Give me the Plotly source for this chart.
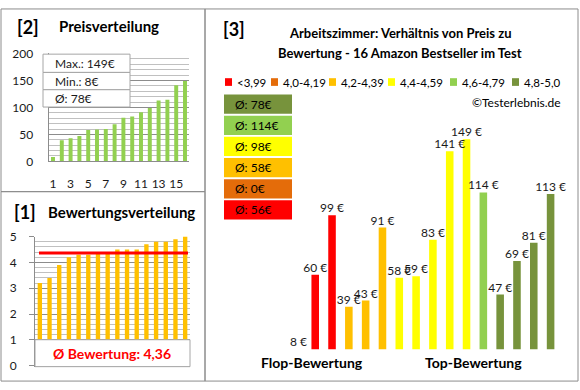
import plotly.graph_objects as go

W, H = 580, 390
FONT = "Lato, 'Liberation Sans', sans-serif"

# ---------------- data ----------------
# right panel: products ordered by rating class, price in EUR
right_prices = [8, 60, 99, 39, 43, 91, 58, 59, 83, 141, 149, 114, 47, 69, 81, 113]
right_class = [0, 0, 0, 2, 2, 2, 3, 3, 3, 3, 3, 4, 5, 5, 5, 5]
class_labels = ["<3,99", "4,0-4,19", "4,2-4,39", "4,4-4,59", "4,6-4,79", "4,8-5,0"]
class_colors = ["#FF0000", "#E46C0A", "#FFC000", "#FFFF00", "#92D050", "#77933C"]

# bottom-left: rating distribution (sorted)
ratings = [3.2, 3.4, 3.9, 4.2, 4.3, 4.3, 4.4, 4.4, 4.5, 4.5, 4.5, 4.7, 4.8, 4.8, 4.9, 5.0]

# top-left: price distribution (sorted)
prices_sorted = sorted(right_prices)
price_idx = list(range(1, len(prices_sorted) + 1))
price_ticks = [1, 3, 5, 7, 9, 11, 13, 15]

title_right = ["Arbeitszimmer: Verhältnis von Preis zu",
               "Bewertung - 16 Amazon Bestseller im Test"]
group_labels = ["Flop-Bewertung", "Top-Bewertung"]

# ---------------- layout constants ----------------
def px(x):
    return x / W

def py(y):
    return 1 - y / H

GRID_MAJ = "#8c8c8c"
GRID_MIN = "#c0c0c0"
BORDER = "#8c8c8c"
TXT = "#1a1a1a"

fig = go.Figure()

# top-left bars
fig.add_trace(go.Bar(x=price_idx, y=prices_sorted, marker_color="#92D050",
                     marker_line_width=0, xaxis="x", yaxis="y", showlegend=False))

# bottom-left bars
fig.add_trace(go.Bar(x=list(range(1, len(ratings) + 1)), y=ratings, marker_color="#FFC000",
                     marker_line_width=0, xaxis="x2", yaxis="y2", showlegend=False))

# right bars
Y3_MIN = 11
r_x = list(range(1, len(right_prices) + 1))
fig.add_trace(go.Bar(x=r_x, y=right_prices,
                     marker_color=[class_colors[c] for c in right_class],
                     marker_line_width=0, xaxis="x3", yaxis="y3", showlegend=False))
fig.add_trace(go.Scatter(x=r_x, y=[max(v, Y3_MIN) for v in right_prices],
                         mode="text", text=[f"{v} €" for v in right_prices],
                         textposition="top center",
                         textfont=dict(size=12, color=TXT, family=FONT),
                         xaxis="x3", yaxis="y3", showlegend=False, cliponaxis=False,
                         hoverinfo="skip"))

shapes = []
ann = []

# panel borders
shapes.append(dict(type="rect", xref="paper", yref="paper", x0=px(1), x1=px(205), y0=py(191), y1=py(1),
                   line=dict(color=BORDER, width=1), layer="above"))
shapes.append(dict(type="rect", xref="paper", yref="paper", x0=px(1), x1=px(205), y0=py(388), y1=py(191),
                   line=dict(color=BORDER, width=1), layer="above"))
shapes.append(dict(type="rect", xref="paper", yref="paper", x0=px(205), x1=px(578), y0=py(388), y1=py(1),
                   line=dict(color=BORDER, width=1), layer="above"))

# top-left info box
avg_price = sum(prices_sorted) / len(prices_sorted)
info = [f"Max.: {max(prices_sorted)}€", f"Min.: {min(prices_sorted)}€", f"Ø: {int(avg_price + 0.5)}€"]
rows = [(48, 67), (67, 85), (85, 103)]
for (t, b), s in zip(rows, info):
    shapes.append(dict(type="rect", xref="paper", yref="paper", x0=px(43), x1=px(130), y0=py(b), y1=py(t),
                       fillcolor="white", line=dict(color="#a6a6a6", width=1), layer="above"))
    ann.append(dict(x=px(53), y=py((t + b) / 2), xref="paper", yref="paper", text=s, showarrow=False,
                    xanchor="left", yanchor="middle", font=dict(size=12, color=TXT, family=FONT)))

# bottom-left avg line + box
avg_rating = sum(ratings) / len(ratings)
shapes.append(dict(type="line", xref="paper", yref="y2", x0=px(39), x1=px(188), y0=avg_rating, y1=avg_rating,
                   line=dict(color="#FF0000", width=3), layer="above"))
shapes.append(dict(type="rect", xref="paper", yref="paper", x0=px(35), x1=px(190), y0=py(373), y1=py(345),
                   fillcolor="white", line=dict(color="#a6a6a6", width=1), layer="above"))
ann.append(dict(x=px(112), y=py(359), xref="paper", yref="paper", xanchor="center", yanchor="middle",
                text="<b>Ø Bewertung: " + f"{avg_rating:.2f}".replace(".", ",") + "</b>",
                showarrow=False, font=dict(size=14, color="#FF0000", family=FONT)))

# titles
def label(x, y, text, size, bold=True, anchor="center", color="#000000"):
    ann.append(dict(x=px(x), y=py(y), xref="paper", yref="paper",
                    text=f"<b>{text}</b>" if bold else text, showarrow=False,
                    xanchor=anchor, yanchor="middle", font=dict(size=size, color=color, family=FONT)))

label(28, 20, "[2]", 18)
label(109, 19, "Preisverteilung", 15)
label(25, 212, "[1]", 18)
label(121, 212, "Bewertungsverteilung", 15)
label(234, 22, "[3]", 18)
label(400, 26.5, title_right[0], 13)
label(400, 46.5, title_right[1], 13)
label(312, 369, group_labels[0], 14)
label(473, 369, group_labels[1], 14)
label(563, 98, "©Testerlebnis.de", 12, bold=False, anchor="right")

# legend
leg_x = [225, 271, 329, 388, 450, 512]
for lx, lab, col in zip(leg_x, class_labels, class_colors):
    shapes.append(dict(type="rect", xref="paper", yref="paper", x0=px(lx), x1=px(lx + 7), y0=py(81), y1=py(73),
                       fillcolor=col, line=dict(width=0)))
    label(lx + 10, 77, lab, 11.5, bold=False, anchor="left")

# class averages boxes (top = best class)
for i, ci in enumerate(reversed(range(len(class_labels)))):
    vals = [p for p, c in zip(right_prices, right_class) if c == ci]
    avg = int(sum(vals) / len(vals) + 0.5) if vals else 0
    top = 90 + 22 * i
    shapes.append(dict(type="rect", xref="paper", yref="paper", x0=px(224), x1=px(292), y0=py(top + 20), y1=py(top),
                       fillcolor=class_colors[ci], line=dict(width=0)))
    label(233, top + 10, f"Ø: {avg}€", 12, bold=False, anchor="left")

tickfont = dict(size=12, color=TXT, family=FONT)
fig.update_layout(
    width=W, height=H, margin=dict(l=0, r=0, t=0, b=0),
    paper_bgcolor="white", plot_bgcolor="white",
    font=dict(family=FONT),
    shapes=shapes, annotations=ann,
    bargap=0.55,
    xaxis=dict(domain=[px(48.6), px(189.4)], range=[0.5, 16.5], tickvals=price_ticks,
               tickfont=tickfont, ticks="outside", ticklen=11, tickcolor="rgba(0,0,0,0)",
               showgrid=False, zeroline=False,
               showline=True, linecolor=GRID_MAJ, anchor="y", fixedrange=True),
    yaxis=dict(domain=[py(159.5), py(47.3)], range=[0, 200], dtick=50, tickfont=tickfont,
               ticks="outside", ticklen=12, tickcolor="rgba(0,0,0,0)",
               gridcolor=GRID_MAJ, zeroline=False, showline=True, linecolor=GRID_MAJ,
               minor=dict(dtick=10, showgrid=True, gridcolor=GRID_MIN), anchor="x"),
    xaxis2=dict(domain=[px(35), px(190)], range=[0.5, 16.5], showticklabels=False, showgrid=False,
                zeroline=False, showline=True, linecolor=GRID_MAJ, anchor="y2"),
    yaxis2=dict(domain=[py(372), py(237.7)], range=[0, 5], dtick=1, tickfont=tickfont,
                ticks="outside", ticklen=5, tickcolor=GRID_MAJ, ticklabelstandoff=10,
                gridcolor=GRID_MAJ, zeroline=False, showline=True, linecolor=GRID_MAJ,
                minor=dict(dtick=0.2, showgrid=True, gridcolor=GRID_MIN), anchor="x2"),
    xaxis3=dict(domain=[px(290), px(559)], range=[0.5, 16.5], visible=False, anchor="y3"),
    yaxis3=dict(domain=[py(355), py(119)], range=[Y3_MIN, 160], visible=False, anchor="x3"),
)

fig.write_html(
    "out.html",
    config={"displayModeBar": False},
    post_script=("document.documentElement.style.margin='0';"
                 "document.documentElement.style.overflow='hidden';"
                 "document.body.style.margin='0';document.body.style.padding='0';"
                 "document.body.style.overflow='hidden';"),
)
